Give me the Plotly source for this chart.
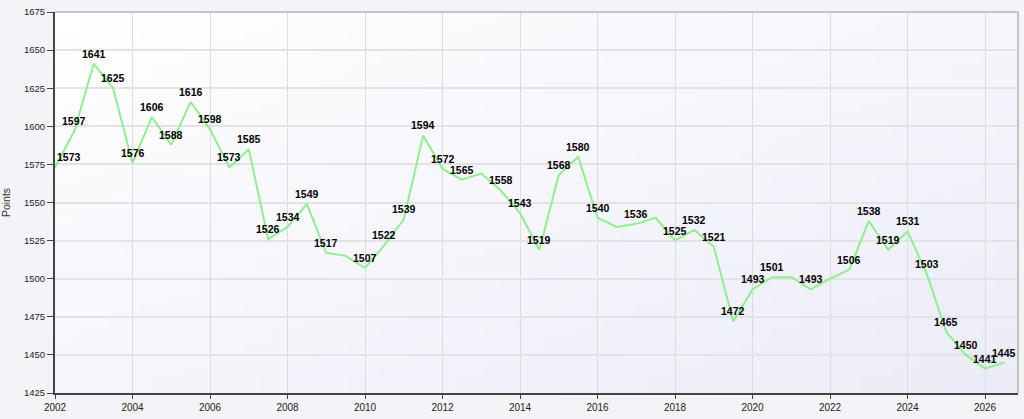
import base64
import struct
import zlib

import plotly.graph_objects as go

# half-year steps, 2002 .. 2026.5
years = [2002.0, 2002.5, 2003.0, 2003.5, 2004.0, 2004.5, 2005.0, 2005.5,
         2006.0, 2006.5, 2007.0, 2007.5, 2008.0, 2008.5, 2009.0, 2009.5,
         2010.0, 2010.5, 2011.0, 2011.5, 2012.0, 2012.5, 2013.0, 2013.5,
         2014.0, 2014.5, 2015.0, 2015.5, 2016.0, 2016.5, 2017.0, 2017.5,
         2018.0, 2018.5, 2019.0, 2019.5, 2020.0, 2020.5, 2021.0, 2021.5,
         2022.0, 2022.5, 2023.0, 2023.5, 2024.0, 2024.5, 2025.0, 2025.5,
         2026.0, 2026.5]
points = [1573, 1597, 1641, 1625, 1576, 1606, 1588, 1616,
          1598, 1573, 1585, 1526, 1534, 1549, 1517, 1515,
          1507, 1522, 1539, 1594, 1572, 1565, 1569, 1558,
          1543, 1519, 1568, 1580, 1540, 1534, 1536, 1540,
          1525, 1532, 1521, 1472, 1493, 1501, 1501, 1493,
          1500, 1506, 1538, 1519, 1531, 1503, 1465, 1450,
          1441, 1445]
# points that carry a data label in the original
labelled = [1, 1, 1, 1, 1, 1, 1, 1,
            1, 1, 1, 1, 1, 1, 1, 0,
            1, 1, 1, 1, 1, 1, 0, 1,
            1, 1, 1, 1, 1, 0, 1, 0,
            1, 1, 1, 1, 1, 1, 0, 1,
            0, 1, 1, 1, 1, 1, 1, 1,
            1, 1]
y_ticks = [1425, 1450, 1475, 1500, 1525, 1550, 1575, 1600, 1625, 1650, 1675]


def gradient_png(w, h, c0, c1):
    # small diagonal gradient for the plot background
    raw = b""
    for j in range(h):
        raw += b"\x00"
        for i in range(w):
            t = (i / (w - 1) + j / (h - 1)) / 2
            raw += bytes(round(a + (b - a) * t) for a, b in zip(c0, c1))

    def chunk(tag, data):
        c = struct.pack(">I", len(data)) + tag + data
        return c + struct.pack(">I", zlib.crc32(tag + data) & 0xffffffff)

    png = b"\x89PNG\r\n\x1a\n"
    png += chunk(b"IHDR", struct.pack(">IIBBBBB", w, h, 8, 2, 0, 0, 0))
    png += chunk(b"IDAT", zlib.compress(raw))
    png += chunk(b"IEND", b"")
    return "data:image/png;base64," + base64.b64encode(png).decode()


fig = go.Figure()
fig.add_trace(go.Scatter(
    x=years, y=points, mode="lines",
    line=dict(color="#90ee90", width=2),
    hoverinfo="x+y", showlegend=False,
))

# data labels above the points
for i, (x, y, show) in enumerate(zip(years, points, labelled)):
    if not show:
        continue
    fig.add_annotation(
        x=x, y=y, text=str(y), showarrow=False,
        xanchor="left" if i == 0 else "center", yanchor="bottom", yshift=2,
        font=dict(family="Liberation Sans", size=10.5, color="#000000", weight="bold"),
    )

fig.add_layout_image(dict(
    source=gradient_png(64, 32, (255, 255, 255), (236, 236, 248)),
    xref="paper", yref="paper", x=0, y=1, sizex=1, sizey=1,
    xanchor="left", yanchor="top", sizing="stretch", layer="below",
))

# grey border on top and right of the plot area
fig.add_shape(type="line", xref="paper", yref="paper", x0=0, x1=1, y0=1, y1=1,
              line=dict(color="#c4c4c4", width=2))
fig.add_shape(type="line", xref="paper", yref="paper", x0=1, x1=1, y0=0, y1=1,
              line=dict(color="#c4c4c4", width=2))

fig.update_layout(
    width=1024, height=419,
    margin=dict(l=52, r=6, t=8, b=21),
    paper_bgcolor="#f4f4f8",
    plot_bgcolor="rgba(0,0,0,0)",
    font=dict(family="Liberation Sans", size=9, color="#333333"),
)
fig.update_xaxes(
    range=[2002, 2026.85], tick0=2002, dtick=2,
    showgrid=True, gridcolor="#dcdcdc", gridwidth=1,
    showline=True, linecolor="#444444", linewidth=2,
    ticks="outside", ticklen=4, tickcolor="#444444",
    zeroline=False, tickfont=dict(size=10, color="#222222"),
)
fig.update_yaxes(
    range=[1425, 1675], tickvals=y_ticks,
    showgrid=True, gridcolor="#e2e2e8", gridwidth=2,
    showline=True, linecolor="#444444", linewidth=2,
    ticks="outside", ticklen=6, tickcolor="#444444",
    zeroline=False, tickfont=dict(size=9.5, color="#222222"),
    title=dict(text="Points", font=dict(size=10.5, color="#333333"), standoff=11),
)

# drop the page's default body margin so the figure fills the window
fig.write_html("out.html", config={"displayModeBar": False},
               post_script="document.body.style.margin='0';")
